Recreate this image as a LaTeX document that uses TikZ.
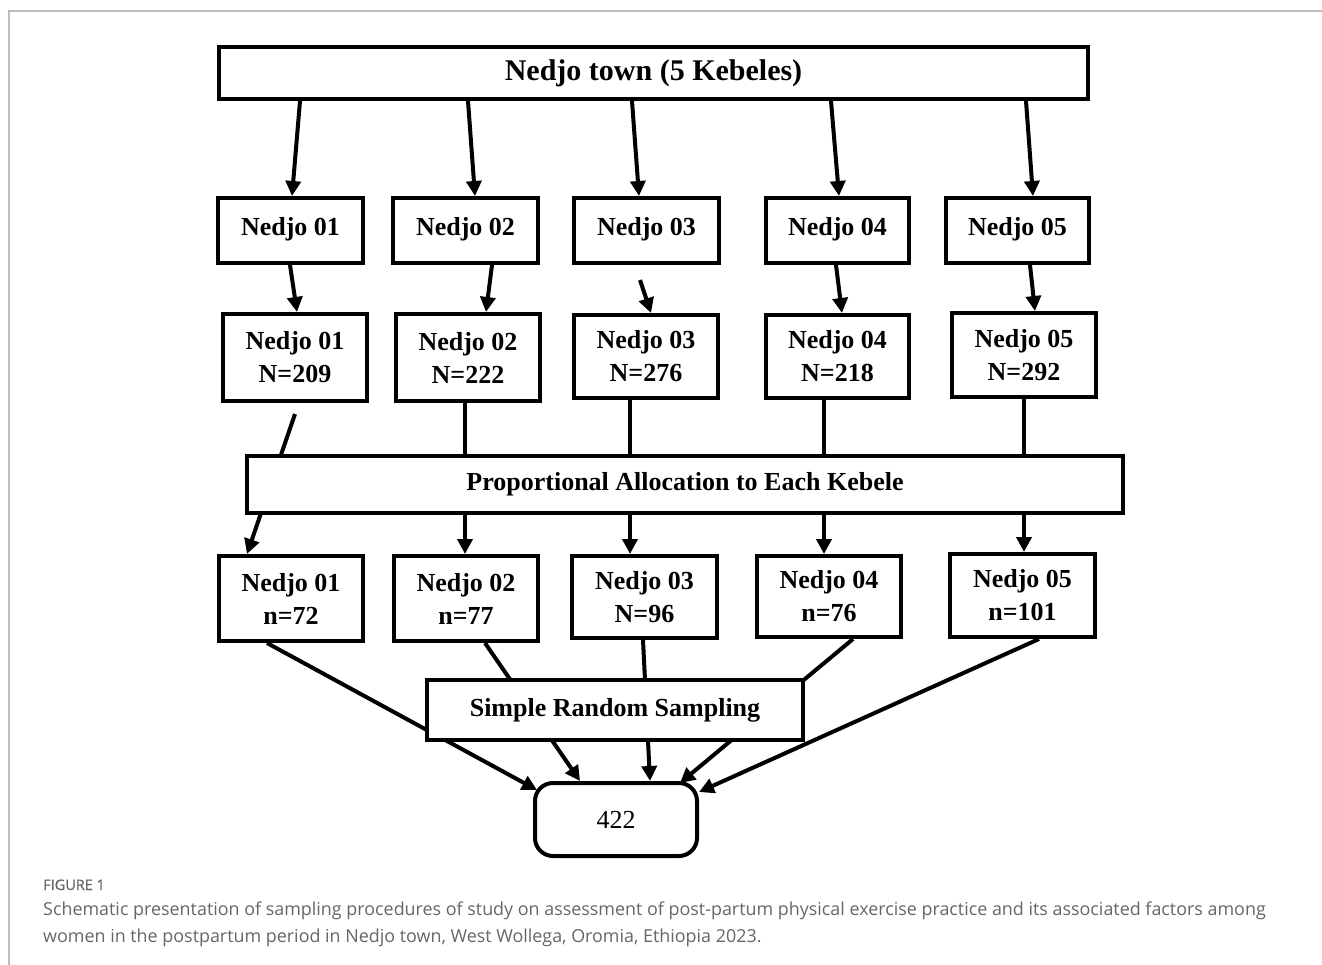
\documentclass[tikz,border=0pt]{standalone}
\usepackage{fontspec}
\setmainfont{Liberation Serif}
\newfontfamily\capfont{Open Sans}
\newfontfamily\figfont[FakeBold=0.8]{Open Sans}
\usetikzlibrary{arrows.meta}
\definecolor{capgray}{HTML}{666666}
\definecolor{framegray}{HTML}{BDBDBD}
\pgfdeclarelayer{bg}
\pgfsetlayers{bg,main}
\tikzset{
  box/.style={draw, line width=4pt, fill=white, inner sep=0pt, align=center,
    font=\bfseries\fontsize{26}{33}\selectfont},
  onebox/.style={box, text depth=9pt},
  conn/.style={line width=4pt},
  arr/.style={line width=4pt, -{Triangle[length=15pt,width=15pt]}},
  captxt/.style={anchor=base west, inner sep=0pt, text=capgray, font=\capfont\fontsize{17.9}{22}\selectfont}
}
\begin{document}
\begin{tikzpicture}[x=1pt,y=-1pt]
\useasboundingbox (0,0) rectangle (1322,965);
% frame
\draw[framegray, line width=1.8pt] (9,965) -- (9,11) -- (1322,11);
% nodes
\node[box, font=\bfseries\fontsize{30}{36}\selectfont, minimum width=869pt, minimum height=52pt] (T) at (653.5,73) {Nedjo town (5 Kebeles)};
\node[onebox, minimum width=145pt, minimum height=65pt] (a1) at (290.5,230.5) {Nedjo 01};
\node[onebox, minimum width=145pt, minimum height=65pt] (a2) at (465.5,230.5) {Nedjo 02};
\node[onebox, minimum width=145pt, minimum height=65pt] (a3) at (646.5,230.5) {Nedjo 03};
\node[onebox, minimum width=143pt, minimum height=65pt] (a4) at (837.5,230.5) {Nedjo 04};
\node[onebox, minimum width=143pt, minimum height=65pt] (a5) at (1017.5,230.5) {Nedjo 05};
\node[box, minimum width=144pt, minimum height=87pt] (b1) at (295,357.5) {Nedjo 01\\N=209};
\node[box, minimum width=144pt, minimum height=87pt] (b2) at (468,357.5) {Nedjo 02\\N=222};
\node[box, minimum width=144pt, minimum height=83pt] (b3) at (646,356.5) {Nedjo 03\\N=276};
\node[box, minimum width=143pt, minimum height=83pt] (b4) at (837.5,356.5) {Nedjo 04\\N=218};
\node[box, minimum width=144pt, minimum height=84pt] (b5) at (1024,355) {Nedjo 05\\N=292};
\node[box, minimum width=876pt, minimum height=57pt] (P) at (685,484.5) {Proportional Allocation to Each Kebele};
\node[box, minimum width=144pt, minimum height=85pt] (c1) at (291,598.5) {Nedjo 01\\n=72};
\node[box, minimum width=144pt, minimum height=85pt] (c2) at (466,598.5) {Nedjo 02\\n=77};
\node[box, minimum width=145pt, minimum height=82pt] (c3) at (644.5,597) {Nedjo 03\\N=96};
\node[box, minimum width=144pt, minimum height=81pt] (c4) at (829,596.5) {Nedjo 04\\n=76};
\node[box, minimum width=145pt, minimum height=83pt] (c5) at (1022.5,595.5) {Nedjo 05\\n=101};
\node[box, minimum width=376pt, minimum height=60pt] (S) at (615,710) {Simple Random Sampling};
\node[box, rounded corners=18pt, font=\fontsize{26}{32}\selectfont, minimum width=162pt, minimum height=73pt] (F) at (616,819.5) {422};
% connectors
\begin{pgfonlayer}{bg}
\draw[arr] ([xshift=-353.5pt]T.south) -- ([xshift=1.5pt]a1.north);
\draw[arr] ([xshift=-185.5pt]T.south) -- ([xshift=9.5pt]a2.north);
\draw[arr] ([xshift=-21.5pt]T.south) -- ([xshift=-7.5pt]a3.north);
\draw[arr] ([xshift=177.5pt]T.south) -- ([xshift=1.5pt]a4.north);
\draw[arr] ([xshift=372.5pt]T.south) -- ([xshift=15.5pt]a5.north);
\draw[arr] ([xshift=-0.5pt]a1.south) -- ([xshift=2pt]b1.north);
\draw[arr] ([xshift=26.5pt]a2.south) -- ([xshift=18pt]b2.north);
\draw[arr] ([xshift=-6.5pt,yshift=-15pt]a3.south) -- ([xshift=5pt]b3.north);
\draw[arr] ([xshift=-1.5pt]a4.south) -- ([xshift=4.5pt]b4.north);
\draw[arr] ([xshift=12.5pt]a5.south) -- ([xshift=11pt]b5.north);
\draw[arr] ([yshift=-11pt]b1.south) -- ([xshift=-44pt]c1.north);
\draw[conn] ([xshift=-3pt]b2.south) -- ([xshift=-220pt]P.north);
\draw[arr] ([xshift=-220pt]P.south) -- ([xshift=-1pt]c2.north);
\draw[conn] ([xshift=-16pt]b3.south) -- ([xshift=-55pt]P.north);
\draw[arr] ([xshift=-55pt]P.south) -- ([xshift=-14.5pt]c3.north);
\draw[conn] ([xshift=-13.5pt]b4.south) -- ([xshift=139pt]P.north);
\draw[arr] ([xshift=139pt]P.south) -- ([xshift=-5pt]c4.north);
\draw[conn] (b5.south) -- ([xshift=339pt]P.north);
\draw[arr] ([xshift=339pt]P.south) -- ([xshift=1.5pt]c5.north);
\draw[arr] ([xshift=-24pt]c1.south) -- ([xshift=-79pt,yshift=29.5pt]F.center);
\draw[arr] ([xshift=19pt]c2.south) -- ([xshift=-36pt]F.north);
\draw[arr] ([xshift=-1.5pt]c3.south) -- ([xshift=34pt]F.north);
\draw[arr] ([xshift=24pt]c4.south) -- ([xshift=64pt,yshift=-2pt]F.north);
\draw[arr] ([xshift=16.5pt]c5.south) -- ([yshift=27.5pt]F.east);
\end{pgfonlayer}
% caption
\node[captxt, font=\figfont\fontsize{14.5}{17}\selectfont] (fig) at (43,890) {FIGURE 1};
\node[captxt] (cap1) at (43,915) {Schematic presentation of sampling procedures of study on assessment of post-partum physical exercise practice and its associated factors among};
\node[captxt] (cap2) at (43,942) {women in the postpartum period in Nedjo town, West Wollega, Oromia, Ethiopia 2023.};
\end{tikzpicture}
\end{document}
